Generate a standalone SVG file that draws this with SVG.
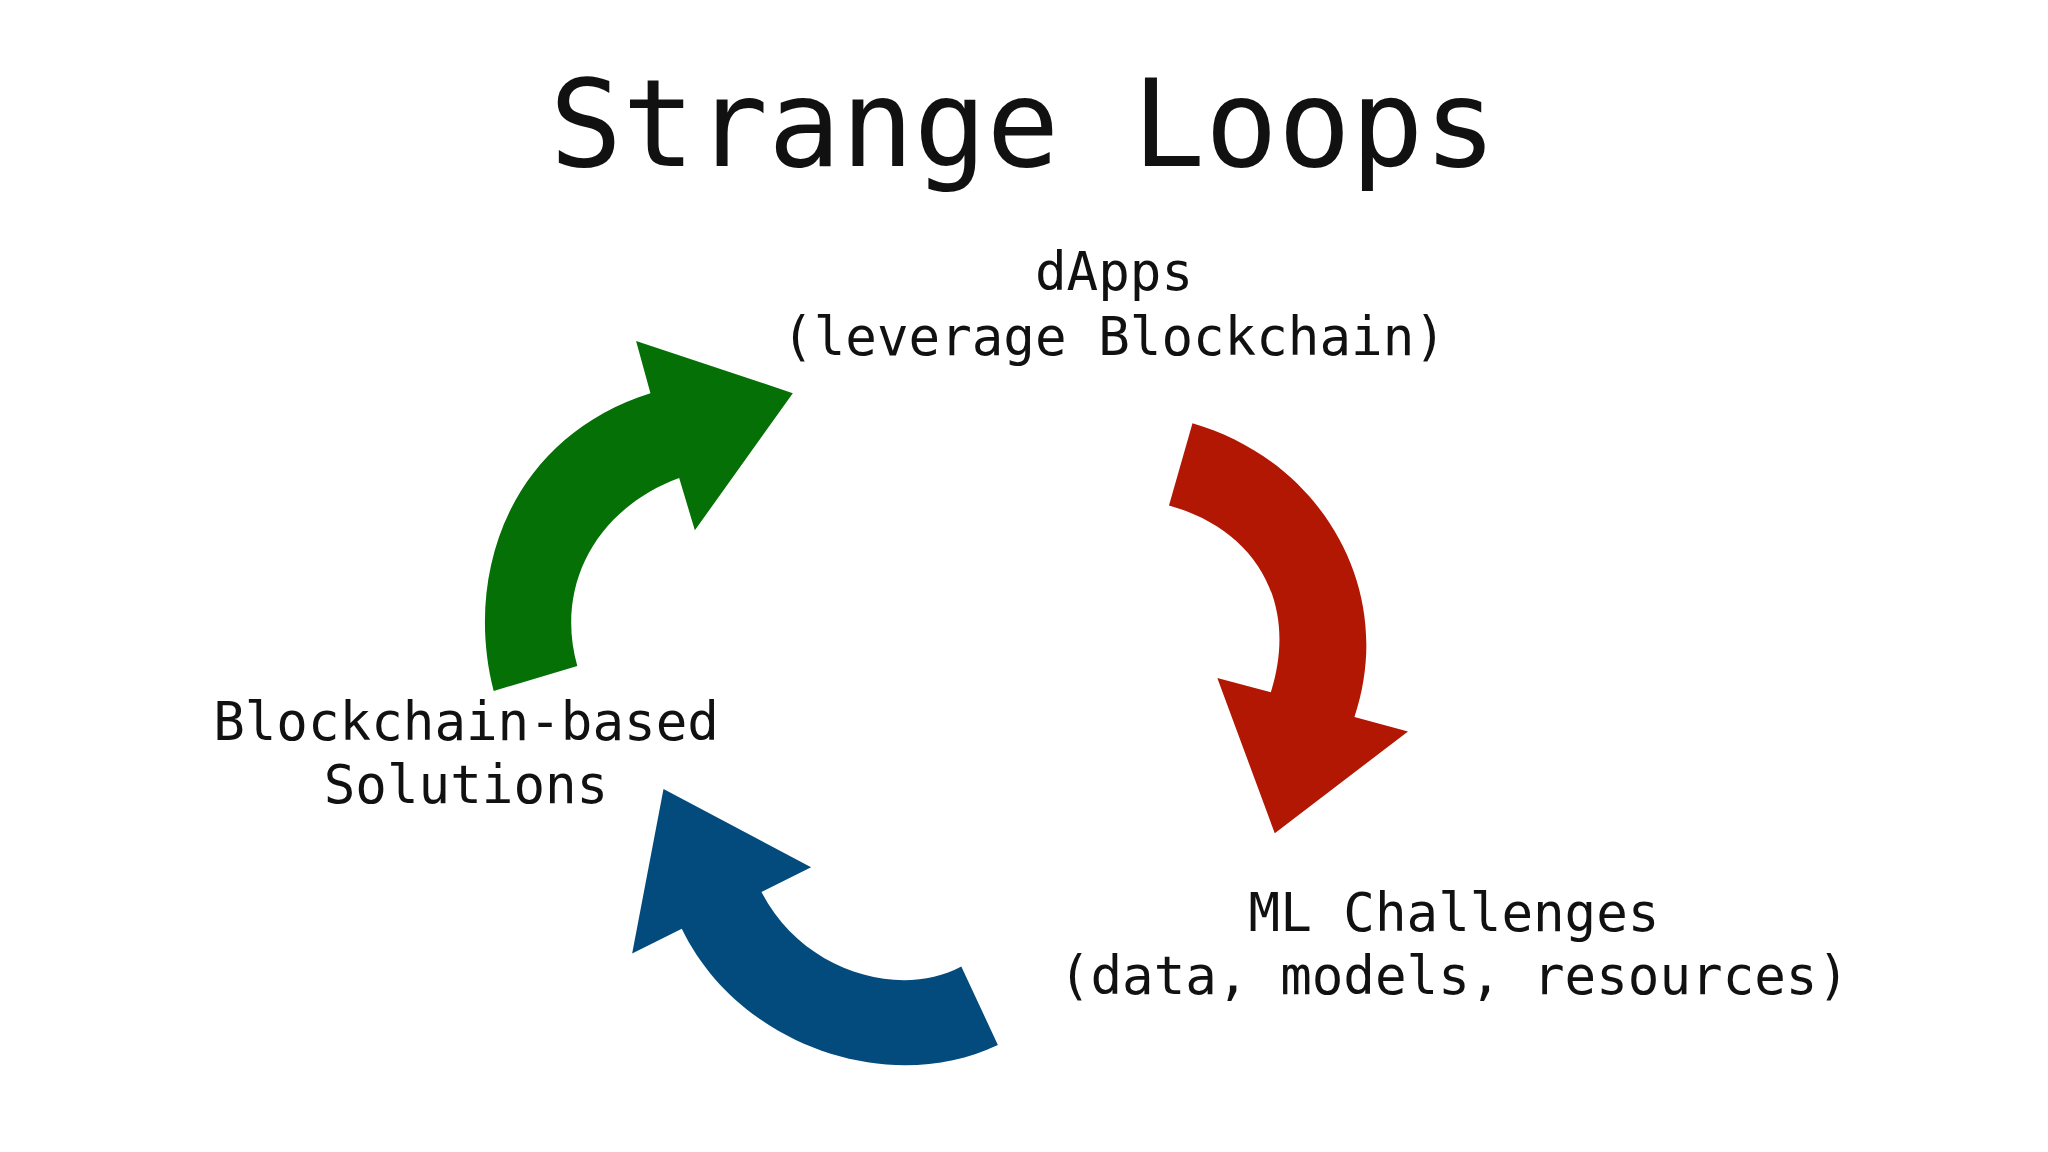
<svg xmlns="http://www.w3.org/2000/svg" width="2048" height="1152" viewBox="0 0 2048 1152">
<style>
.t{font-family:"DejaVu Sans Mono","Liberation Mono",monospace;fill:#111;text-anchor:middle}
.lbl{font-size:52.5px}
</style>
<rect width="2048" height="1152" fill="#ffffff"/>
<text class="t" x="1023" y="166" font-size="121">Strange Loops</text>
<g id="connectors" transform="scale(1.30612)">
<path id="green" fill="#047006" d="M378,529 C355,440 390,335 498,301 L487,261 L607,301 L532,406 L520,366 C455,390 425,450 442,510 Z"/>
<path id="red" fill="#b21703" d="M913,324 C1010,352 1070,450 1037,549 L1078,560 L976,638 L932,519 L973,530 C995,460 960,405 895,387 Z"/>
<path id="blue" fill="#034b7d" d="M764,800 C680,840 565,800 522,711 L484,730 L508,604 L621,664 L583,683 C615,745 690,765 736,740 Z"/>
</g>
<g id="dapps"><text class="t lbl" x="1114" y="290">dApps</text><text class="t lbl" x="1114" y="355">(leverage Blockchain)</text></g>
<g id="solutions"><text class="t lbl" x="466" y="740">Blockchain-based</text><text class="t lbl" x="466" y="803">Solutions</text></g>
<g id="ml"><text class="t lbl" x="1454" y="931">ML Challenges</text><text class="t lbl" x="1454" y="994">(data, models, resources)</text></g>
</svg>
